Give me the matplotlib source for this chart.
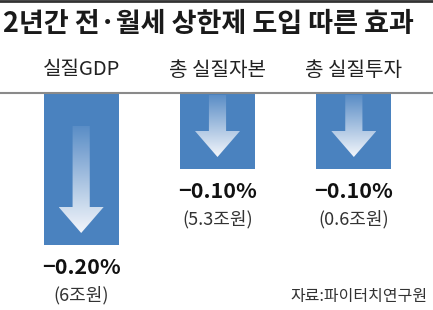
import matplotlib.pyplot as plt
import numpy as np
from matplotlib.patches import Polygon
from matplotlib.lines import Line2D
from matplotlib.colors import LinearSegmentedColormap

plt.rcParams['font.family'] = ['Noto Sans CJK KR', 'DejaVu Sans']

# 데이터
title = '2년간 전·월세 상한제 도입 따른 효과'
categories = ['실질GDP', '총 실질자본', '총 실질투자']
values = [-0.20, -0.10, -0.10]
value_labels = ['−0.20%', '−0.10%', '−0.10%']
amount_labels = ['(6조원)', '(5.3조원)', '(0.6조원)']
source = '자료:파이터치연구원'

bar_color = '#4a82bf'
grad = LinearSegmentedColormap.from_list('g', ['#5a8dc6', '#f3f6fb'])

fig = plt.figure(figsize=(4.33, 3.10), dpi=100)
ax = fig.add_axes([13/433, 65/310, 409/433, 152/310])
ax.set_xlim(-0.5, 2.5)
ax.set_ylim(-0.2, 0)
ax.axis('off')

x = np.arange(len(values))
ax.bar(x, values, width=0.55, color=bar_color, zorder=2)

# 막대 안 그라데이션 화살표
k = 0.2 / 152  # 1px 당 값
img = np.linspace(0, 1, 256).reshape(-1, 1)
for xi, v in zip(x, values):
    tip = v + 12 * k
    head = tip + 26 * k
    length = min(107 * k, -v - 14 * k)
    top = tip + length
    sw, hw = 0.063, 0.165
    verts = [(xi - sw, top), (xi + sw, top), (xi + sw, head), (xi + hw, head),
             (xi, tip), (xi - hw, head), (xi - sw, head)]
    poly = Polygon(verts, closed=True, facecolor='none', edgecolor='none')
    ax.add_patch(poly)
    im = ax.imshow(img, cmap=grad, aspect='auto', origin='upper',
                   extent=(xi - hw, xi + hw, tip, top), zorder=3)
    im.set_clip_path(poly)

ax.set_xlim(-0.5, 2.5)
ax.set_ylim(-0.2, 0)

for xi, v, cat, vl, al in zip(x, values, categories, value_labels, amount_labels):
    ax.annotate(cat, xy=(xi, 0), xytext=(0, 23), textcoords='offset pixels',
                ha='center', va='center', fontsize=14.5, color='#222',
                annotation_clip=False)
    ax.annotate(vl, xy=(xi, v), xytext=(0, -22), textcoords='offset pixels',
                ha='center', va='center', fontsize=15.5, fontweight='bold',
                color='#111', annotation_clip=False)
    ax.annotate(al, xy=(xi, v), xytext=(0, -50), textcoords='offset pixels',
                ha='center', va='center', fontsize=13, color='#333',
                annotation_clip=False)

fig.text(3/433, 1 - 24/310, title, ha='left', va='center', fontsize=19.5,
         fontweight='bold', color='#1a1a1a')
fig.text(428/433, 1 - 297/310, source, ha='right', va='center',
         fontsize=11.5, color='#333')

fig.add_artist(Line2D([0, 1], [0.997, 0.997], color='#333', lw=2))
fig.add_artist(Line2D([0, 1], [1 - 93/310, 1 - 93/310], color='#8a8a8a', lw=1.5))

fig.savefig('out.png', dpi=100)
